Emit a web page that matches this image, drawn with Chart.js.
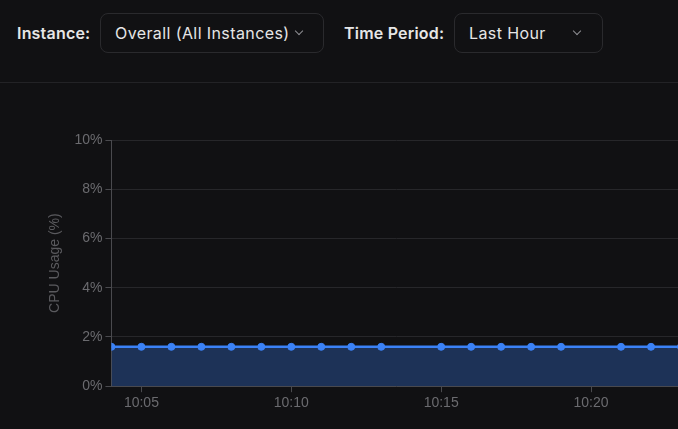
<!DOCTYPE html>
<html>
<head>
<meta charset="utf-8">
<script src="https://cdn.jsdelivr.net/npm/chart.js@4/dist/chart.umd.min.js"></script>
<style>
  html, body {
    margin: 0;
    padding: 0;
    width: 678px;
    height: 429px;
    overflow: hidden;
    background: #111113;
    font-family: Inter, "Noto Sans", sans-serif;
  }
  .header {
    position: absolute;
    left: 0;
    top: 0;
    width: 678px;
    height: 82px;
    border-bottom: 1px solid #232326;
  }
  .label {
    position: absolute;
    top: 23px;
    font-size: 16px;
    font-weight: 600;
    letter-spacing: 0.2px;
    color: #e6e6e6;
  }
  .select {
    position: absolute;
    top: 13px;
    border: 1px solid #2a2a2d;
    border-radius: 8px;
    box-sizing: border-box;
    height: 40px;
    font-size: 16px;
    letter-spacing: 0.4px;
    color: #e6e6e6;
  }
  .select span {
    position: absolute;
    left: 14px;
    top: 9px;
  }
  .chev {
    position: absolute;
    top: 14px;
    width: 5px;
    height: 5px;
    border-right: 1.5px solid #8e8e92;
    border-bottom: 1.5px solid #8e8e92;
    transform: rotate(45deg);
  }
  .chart-box {
    position: absolute;
    left: 0;
    top: 83px;
    width: 686px;
    height: 346px;
  }
</style>
</head>
<body>
<div class="header">
  <div class="label" style="left:17px">Instance:</div>
  <div class="select" style="left:100px;width:224px">
    <span>Overall (All Instances)</span>
    <div class="chev" style="left:195px"></div>
  </div>
  <div class="label" style="left:344px">Time Period:</div>
  <div class="select" style="left:454px;width:149px">
    <span>Last Hour</span>
    <div class="chev" style="left:119px"></div>
  </div>
</div>
<div class="chart-box"><canvas id="cpuChart"></canvas></div>
<script>
document.addEventListener("DOMContentLoaded", function () {
  // sample times (HH:MM) and CPU usage (%)
  const times = [
    "10:04", "10:05", "10:06", "10:07", "10:08", "10:09", "10:10", "10:11",
    "10:12", "10:13", "10:15", "10:16", "10:17", "10:18", "10:19", "10:21",
    "10:22", "10:23",
  ];
  const cpuUsage = [
    1.6, 1.6, 1.6, 1.6, 1.6, 1.6, 1.6, 1.6,
    1.6, 1.6, 1.6, 1.6, 1.6, 1.6, 1.6, 1.6,
    1.6, 1.6,
  ];
  const xTickLabels = ["10:05", "10:10", "10:15", "10:20"];
  const yTickValues = [0, 2, 4, 6, 8, 10];

  // convert "HH:MM" to minutes
  const toMinutes = (t) => {
    const parts = t.split(":");
    return parseInt(parts[0], 10) * 60 + parseInt(parts[1], 10);
  };
  const pad = (n) => (n < 10 ? "0" + n : "" + n);
  const fmt = (m) => Math.floor(m / 60) + ":" + pad(m % 60);

  const points = times.map((t, i) => ({ x: toMinutes(t), y: cpuUsage[i] }));

  Chart.defaults.font.family = "'Liberation Sans', Arial, sans-serif";
  Chart.defaults.font.size = 14;

  new Chart(document.getElementById("cpuChart"), {
    type: "line",
    data: {
      datasets: [
        {
          label: "CPU Usage",
          data: points,
          borderColor: "#3b82f6",
          backgroundColor: "rgba(59, 130, 246, 0.3)",
          borderWidth: 2.5,
          pointRadius: 3.5,
          pointBorderWidth: 1,
          pointBackgroundColor: "#3b82f6",
          pointBorderColor: "#3b82f6",
          fill: true,
          tension: 0,
        },
      ],
    },
    options: {
      responsive: true,
      maintainAspectRatio: false,
      animation: false,
      layout: {
        padding: { left: 42.6, top: 57, bottom: 14, right: 0 },
      },
      plugins: {
        legend: { display: false },
        tooltip: { enabled: false },
      },
      scales: {
        x: {
          type: "linear",
          min: toMinutes(times[0]),
          max: toMinutes(times[times.length - 1]),
          afterBuildTicks: (axis) => {
            axis.ticks = xTickLabels.map((t) => ({ value: toMinutes(t) }));
          },
          ticks: {
            color: "#6b6b6f",
            padding: 3,
            maxRotation: 0,
            callback: (v) => fmt(v),
          },
          grid: {
            drawOnChartArea: false,
            tickLength: 6,
            tickColor: "#4a4a4e",
          },
          border: { color: "#4a4a4e" },
        },
        y: {
          min: 0,
          max: 10,
          afterBuildTicks: (axis) => {
            axis.ticks = yTickValues.map((v) => ({ value: v }));
          },
          ticks: {
            color: "#6b6b6f",
            padding: 3,
            callback: (v) => v + "%",
          },
          grid: {
            color: "#27272a",
            tickLength: 6,
            tickColor: "#4a4a4e",
          },
          border: { color: "#4a4a4e" },
          title: {
            display: true,
            text: "CPU Usage (%)",
            color: "#5a5a5e",
            padding: { top: 4, bottom: 8 },
          },
        },
      },
    },
  });
});
</script>
</body>
</html>
